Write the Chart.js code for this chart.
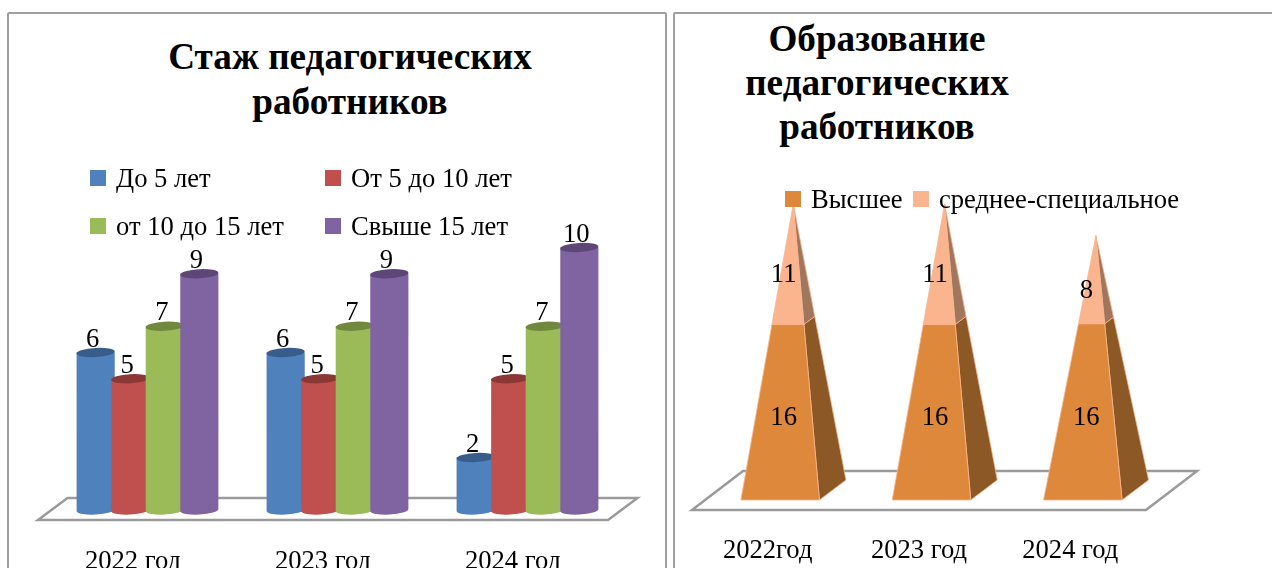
<!DOCTYPE html>
<html lang="ru">
<head>
<meta charset="utf-8">
<script src="https://cdn.jsdelivr.net/npm/chart.js@4"></script>
<style>
  html, body { margin: 0; padding: 0; width: 1272px; height: 568px; overflow: hidden; background: #fff; }
  body { position: relative; font-family: "Liberation Serif", serif; color: #000; }
  .frame { position: absolute; top: 12px; height: 600px; border: 2px solid #a0a0a0; border-radius: 2px; box-sizing: border-box; }
  #frameL { left: 7px; width: 660px; }
  #frameR { left: 673px; width: 640px; }
  canvas { position: absolute; top: 0; }
  #stazh { left: 0; }
  #obraz { left: 675px; }
  .title { position: absolute; font-weight: bold; font-size: 37.2px; text-align: center; white-space: pre-line; }
  #titleL { left: 150px; width: 400px; top: 34px; line-height: 45px; }
  #titleR { left: 677px; width: 400px; top: 17px; line-height: 44px; }
  .leg { position: absolute; font-size: 26.6px; line-height: 28px; white-space: nowrap; }
  .leg i { position: absolute; left: -26px; top: 6px; width: 16px; height: 16px; }
</style>
</head>
<body>
<div class="frame" id="frameL"></div>
<div class="frame" id="frameR"></div>
<div class="title" id="titleL">Стаж педагогических
работников</div>
<div class="title" id="titleR">Образование
педагогических
работников</div>
<canvas id="stazh" width="664" height="600"></canvas>
<canvas id="obraz" width="597" height="600"></canvas>
<div id="legends"></div>
<script>
// ===== Данные =====
const yearsL = ['2022 год', '2023 год', '2024 год'];
const do5 = [6, 6, 2];
const ot5do10 = [5, 5, 5];
const ot10do15 = [7, 7, 7];
const svyshe15 = [9, 9, 10];

const yearsR = ['2022год', '2023 год', '2024 год'];
const vysshee = [16, 16, 16];
const srednee = [11, 11, 8];

// ===== Цвета =====
const cylColors = [
  { side: '#4F81BD', top: '#385D8A' },
  { side: '#C0504D', top: '#8C3836' },
  { side: '#9BBB59', top: '#71893F' },
  { side: '#8064A2', top: '#5C4776' }
];
const pyrColors = [
  { front: '#DE883C', side: '#8B5826' },
  { front: '#FAB48E', side: '#A0775C' }
];
const floorColor = '#9a9a9a';
const labelFont = '26.6px "Liberation Serif"';

function drawFloor(ctx, area, dx, dy) {
  ctx.save();
  ctx.strokeStyle = floorColor;
  ctx.lineWidth = 2.5;
  ctx.beginPath();
  ctx.moveTo(area.left, area.bottom);
  ctx.lineTo(area.left + dx, area.bottom - dy);
  ctx.lineTo(area.right + dx, area.bottom - dy);
  ctx.lineTo(area.right, area.bottom);
  ctx.closePath();
  ctx.stroke();
  ctx.restore();
}

// ===== Цилиндры вместо обычных столбиков =====
const cylinderPlugin = {
  id: 'cylinders',
  beforeDatasetsDraw(chart) {
    const ctx = chart.ctx;
    drawFloor(ctx, chart.chartArea, 29.5, 22);
    const shiftX = 14.5, shiftY = 10, ry = 4.6, tilt = -0.05;
    ctx.save();
    chart.data.datasets.forEach((ds, i) => {
      chart.getDatasetMeta(i).data.forEach((el, j) => {
        const cx = el.x + shiftX;
        const rx = el.width / 2 + 1.8;
        const top = el.y - shiftY, bottom = el.base - shiftY;
        ctx.fillStyle = cylColors[i].side;
        ctx.beginPath();
        ctx.ellipse(cx, bottom, rx, ry, tilt, 0, Math.PI);
        ctx.lineTo(cx - rx, top);
        ctx.lineTo(cx + rx, top);
        ctx.closePath();
        ctx.fill();
        ctx.fillStyle = cylColors[i].top;
        ctx.beginPath();
        ctx.ellipse(cx, top, rx, ry, tilt, 0, Math.PI * 2);
        ctx.fill();
        ctx.fillStyle = '#000';
        ctx.font = labelFont;
        ctx.textAlign = 'center';
        ctx.textBaseline = 'alphabetic';
        ctx.fillText(ds.data[j], cx - 3, top - 6);
      });
    });
    ctx.restore();
    return false;
  }
};

// ===== Пирамиды =====
const pyramidPlugin = {
  id: 'pyramids',
  beforeDatasetsDraw(chart) {
    const ctx = chart.ctx;
    drawFloor(ctx, chart.chartArea, 51, 39);
    const metas = chart.data.datasets.map((d, i) => chart.getDatasetMeta(i));
    const depthX = 26.5, depthY = 20;
    ctx.save();
    metas[0].data.forEach((first, j) => {
      const last = metas[metas.length - 1].data[j];
      const w = first.width;
      const bottom = first.base;
      const apex = { x: first.x + 25.6, y: last.y - 20 };
      const fl = { x: first.x + 12.5 - w / 2, y: bottom - 10 };
      const fr = { x: first.x + 12.5 + w / 2, y: bottom - 10 };
      const br = { x: fr.x + depthX, y: fr.y - depthY };
      const at = (c, t) => ({ x: c.x + (apex.x - c.x) * t, y: c.y + (apex.y - c.y) * t });
      const poly = pts => {
        ctx.beginPath();
        pts.forEach((p, k) => k ? ctx.lineTo(p.x, p.y) : ctx.moveTo(p.x, p.y));
        ctx.closePath();
      };
      metas.forEach((m, i) => {
        const el = m.data[j];
        const t0 = (bottom - el.base) / (bottom - last.y);
        const t1 = (bottom - el.y) / (bottom - last.y);
        ctx.lineWidth = 0.8;
        ctx.strokeStyle = pyrColors[1].front;
        ctx.fillStyle = pyrColors[i].side;
        poly([at(fr, t0), at(br, t0), at(br, t1), at(fr, t1)]);
        ctx.fill();
        ctx.stroke();
        ctx.fillStyle = pyrColors[i].front;
        poly([at(fl, t0), at(fr, t0), at(fr, t1), at(fl, t1)]);
        ctx.fill();
        ctx.stroke();
      });
      metas.forEach((m, i) => {
        const el = m.data[j];
        ctx.fillStyle = '#000';
        ctx.font = labelFont;
        ctx.textAlign = 'center';
        ctx.textBaseline = 'middle';
        ctx.fillText(chart.data.datasets[i].data[j], first.x + 16, (el.y + el.base) / 2 - 7);
      });
    });
    ctx.restore();
    return false;
  }
};

function xAxis(height, pad) {
  return {
    grid: { display: false },
    border: { display: false },
    ticks: { color: '#000', font: { family: 'Liberation Serif', size: 26.6 }, padding: pad, maxRotation: 0, autoSkip: false },
    afterFit(scale) { scale.height = height; }
  };
}

// ===============================
// Стаж педагогических работников
// ===============================
const stazhNames = ['До 5 лет', 'От 5 до 10 лет', 'от 10 до 15 лет', 'Свыше 15 лет'];
const stazhChart = new Chart(document.getElementById('stazh'), {
  type: 'bar',
  data: {
    labels: yearsL,
    datasets: [do5, ot5do10, ot10do15, svyshe15].map((vals, i) => ({
      label: stazhNames[i],
      data: vals,
      backgroundColor: cylColors[i].side,
      categoryPercentage: 0.7276,
      barPercentage: 1
    }))
  },
  options: {
    responsive: false,
    animation: false,
    layout: { padding: { left: 38, right: 56, top: 257.5, bottom: 0 } },
    plugins: { legend: { display: false }, tooltip: { enabled: false } },
    scales: {
      x: xAxis(80, 18),
      y: { display: false, min: 0, max: 10 }
    }
  },
  plugins: [cylinderPlugin]
});

// ===============================
// Образование педагогических работников
// ===============================
const obrazNames = ['Высшее', 'среднее-специальное'];
const obrazChart = new Chart(document.getElementById('obraz'), {
  type: 'bar',
  data: {
    labels: yearsR,
    datasets: [vysshee, srednee].map((vals, i) => ({
      label: obrazNames[i],
      data: vals,
      backgroundColor: pyrColors[i].front,
      categoryPercentage: 0.519,
      barPercentage: 1
    }))
  },
  options: {
    responsive: false,
    animation: false,
    layout: { padding: { left: 17, right: 126, top: 223.8, bottom: 0 } },
    plugins: { legend: { display: false }, tooltip: { enabled: false } },
    scales: {
      x: Object.assign(xAxis(90, 17), { stacked: true }),
      y: { display: false, stacked: true, min: 0, max: 27 }
    }
  },
  plugins: [pyramidPlugin]
});

// ===== Легенды (подписи из наборов данных) =====
function addLegend(chart, spots) {
  const box = document.getElementById('legends');
  chart.data.datasets.forEach((ds, i) => {
    const item = document.createElement('div');
    item.className = 'leg';
    item.style.left = spots[i][0] + 'px';
    item.style.top = spots[i][1] + 'px';
    item.innerHTML = `<i style="background:${ds.backgroundColor}"></i>${ds.label}`;
    box.appendChild(item);
  });
}
addLegend(stazhChart, [[116, 164], [351, 164], [116, 212], [351, 212]]);
addLegend(obrazChart, [[811, 185], [939, 185]]);
</script>
</body>
</html>
